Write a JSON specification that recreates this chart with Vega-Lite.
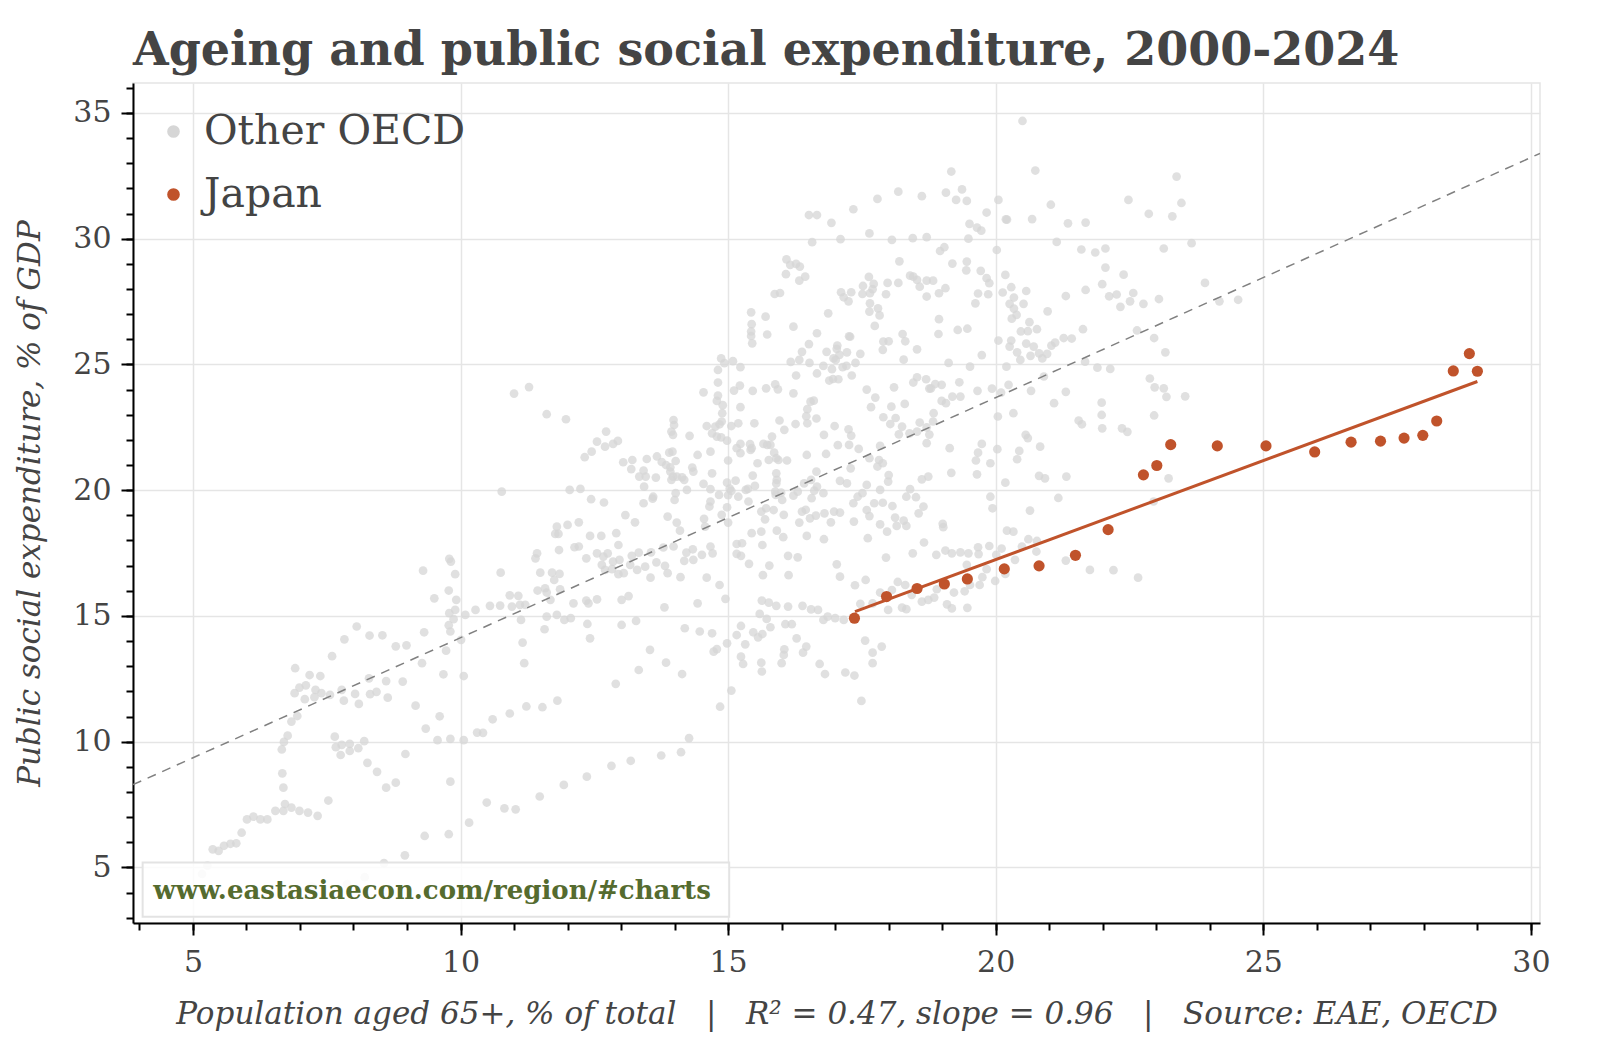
{
  "$schema": "https://vega.github.io/schema/vega-lite/v6.json",
  "width": 1407,
  "height": 840,
  "autosize": {"type": "none"},
  "padding": {"left": 133, "top": 83, "right": 60, "bottom": 117},
  "background": "white",
  "title": {
    "text": "Ageing and public social expenditure, 2000-2024",
    "anchor": "start",
    "frame": "group",
    "font": "DejaVu Serif",
    "fontSize": 46,
    "fontWeight": "bold",
    "color": "#444444",
    "offset": 8
  },
  "config": {
    "view": {"stroke": "#e5e5e5", "strokeWidth": 1.5},
    "legend": {
      "orient": "none",
      "legendX": 20,
      "legendY": 28,
      "padding": 0,
      "labelFont": "DejaVu Serif",
      "labelFontSize": 41,
      "labelColor": "#444444",
      "labelOffset": 10,
      "labelLimit": 500,
      "symbolSize": 160,
      "symbolOpacity": 1,
      "rowPadding": 21
    }
  },
  "datasets": {
    "oecd": [
      {"x":9.30,"y":16.80},{"x":9.82,"y":17.16},{"x":9.90,"y":16.66},{"x":10.75,"y":16.72},{"x":9.51,"y":15.70},{"x":9.78,"y":16.01},{"x":9.92,"y":15.64},{"x":9.79,"y":15.11},{"x":9.90,"y":15.24},{"x":9.87,"y":14.87},{"x":10.09,"y":15.04},{"x":10.28,"y":15.24},{"x":10.55,"y":15.40},{"x":10.74,"y":15.41},{"x":10.92,"y":15.82},{"x":10.96,"y":15.37},{"x":11.08,"y":15.80},{"x":11.11,"y":15.44},{"x":11.21,"y":15.44},{"x":11.13,"y":14.84},{"x":9.78,"y":14.63},{"x":9.81,"y":14.38},{"x":9.32,"y":14.35},{"x":10.01,"y":14.05},{"x":9.73,"y":13.62},{"x":11.16,"y":13.94},{"x":9.28,"y":13.12},{"x":11.19,"y":13.12},{"x":9.68,"y":12.68},{"x":10.06,"y":12.61},{"x":8.06,"y":14.58},{"x":7.83,"y":14.07},{"x":8.30,"y":14.22},{"x":8.54,"y":14.23},{"x":8.79,"y":13.79},{"x":8.99,"y":13.83},{"x":7.60,"y":13.40},{"x":6.91,"y":12.92},{"x":7.18,"y":12.65},{"x":7.38,"y":12.61},{"x":6.90,"y":11.93},{"x":6.99,"y":12.15},{"x":7.11,"y":12.24},{"x":7.29,"y":12.06},{"x":7.09,"y":11.69},{"x":7.27,"y":11.77},{"x":7.40,"y":11.93},{"x":7.56,"y":11.86},{"x":7.78,"y":12.06},{"x":7.82,"y":11.63},{"x":8.03,"y":11.90},{"x":8.10,"y":11.50},{"x":8.29,"y":12.52},{"x":8.31,"y":11.89},{"x":8.43,"y":11.98},{"x":8.61,"y":12.41},{"x":8.64,"y":11.75},{"x":8.92,"y":12.39},{"x":9.16,"y":11.43},{"x":9.61,"y":11.01},{"x":9.35,"y":10.52},{"x":11.23,"y":11.40},{"x":10.92,"y":11.12},{"x":10.60,"y":10.89},{"x":10.31,"y":10.36},{"x":10.42,"y":10.35},{"x":10.06,"y":10.06},{"x":9.81,"y":10.11},{"x":9.57,"y":10.06},{"x":6.95,"y":11.02},{"x":6.84,"y":10.80},{"x":6.77,"y":10.24},{"x":6.70,"y":9.99},{"x":6.66,"y":9.69},{"x":7.65,"y":10.20},{"x":7.67,"y":9.78},{"x":7.76,"y":9.47},{"x":7.78,"y":9.87},{"x":7.93,"y":9.91},{"x":7.93,"y":9.63},{"x":8.09,"y":9.74},{"x":8.20,"y":10.02},{"x":8.26,"y":9.16},{"x":8.44,"y":8.80},{"x":8.61,"y":8.17},{"x":8.79,"y":8.37},{"x":8.97,"y":9.51},{"x":9.81,"y":8.41},{"x":6.67,"y":8.74},{"x":6.69,"y":8.17},{"x":6.72,"y":7.52},{"x":6.84,"y":7.38},{"x":6.99,"y":7.25},{"x":7.15,"y":7.18},{"x":7.33,"y":7.05},{"x":7.53,"y":7.66},{"x":6.69,"y":7.25},{"x":6.54,"y":7.25},{"x":6.39,"y":6.91},{"x":6.26,"y":6.91},{"x":6.13,"y":7.02},{"x":6.01,"y":6.91},{"x":5.91,"y":6.38},{"x":5.81,"y":5.96},{"x":5.70,"y":5.94},{"x":5.58,"y":5.86},{"x":5.48,"y":5.66},{"x":5.37,"y":5.72},{"x":5.27,"y":5.07},{"x":5.17,"y":4.74},{"x":10.49,"y":7.58},{"x":10.82,"y":7.35},{"x":11.03,"y":7.31},{"x":10.16,"y":6.78},{"x":9.78,"y":6.32},{"x":9.33,"y":6.25},{"x":8.96,"y":5.48},{"x":8.57,"y":5.17},{"x":8.21,"y":4.61},{"x":7.88,"y":4.34},{"x":7.22,"y":4.24},
      {"x":9.79,"y":17.27},{"x":10.77,"y":19.94},{"x":11.00,"y":23.84},{"x":11.28,"y":24.10},
      {"x":18.18,"y":31.87},{"x":18.62,"y":31.69},{"x":17.79,"y":31.58},{"x":17.34,"y":31.17},{"x":16.51,"y":30.94},{"x":16.66,"y":30.94},{"x":16.93,"y":30.63},{"x":17.64,"y":30.21},{"x":17.10,"y":29.98},{"x":16.57,"y":29.86},{"x":18.06,"y":29.95},{"x":18.45,"y":30.02},{"x":18.71,"y":30.06},{"x":18.20,"y":29.10},{"x":16.09,"y":29.18},{"x":16.16,"y":28.96},{"x":16.27,"y":29.00},{"x":16.34,"y":28.89},{"x":16.08,"y":28.59},{"x":16.44,"y":28.49},{"x":16.33,"y":28.33},{"x":17.63,"y":28.48},{"x":17.98,"y":28.24},{"x":18.18,"y":28.24},{"x":18.40,"y":28.53},{"x":18.46,"y":28.49},{"x":18.53,"y":28.36},{"x":18.58,"y":28.09},{"x":18.71,"y":28.33},{"x":17.52,"y":28.12},{"x":17.72,"y":28.20},{"x":17.70,"y":27.99},{"x":17.65,"y":27.83},{"x":17.51,"y":27.80},{"x":17.95,"y":27.79},{"x":18.71,"y":27.70},{"x":17.11,"y":27.87},{"x":17.30,"y":27.87},{"x":17.16,"y":27.67},{"x":17.25,"y":27.51},{"x":15.87,"y":27.80},{"x":15.97,"y":27.84},{"x":17.65,"y":27.43},{"x":17.80,"y":27.23},{"x":17.64,"y":27.10},{"x":17.83,"y":26.95},{"x":16.87,"y":27.03},{"x":15.43,"y":27.07},{"x":15.70,"y":26.90},{"x":15.44,"y":26.60},{"x":16.22,"y":26.50},{"x":17.74,"y":26.53},{"x":15.43,"y":26.31},{"x":15.43,"y":26.13},{"x":15.45,"y":25.84},{"x":15.73,"y":26.19},{"x":16.66,"y":26.24},{"x":17.26,"y":26.12},{"x":17.28,"y":26.10},{"x":18.26,"y":26.21},{"x":17.90,"y":25.91},{"x":18.00,"y":25.92},{"x":18.31,"y":25.92},{"x":18.53,"y":25.60},{"x":17.89,"y":25.58},{"x":16.51,"y":25.81},{"x":17.04,"y":25.75},{"x":17.03,"y":25.62},{"x":16.84,"y":25.50},{"x":16.38,"y":25.50},{"x":16.33,"y":25.18},{"x":16.17,"y":25.10},{"x":16.52,"y":25.06},{"x":16.66,"y":24.64},{"x":16.78,"y":24.94},{"x":16.94,"y":24.81},{"x":16.97,"y":25.24},{"x":17.08,"y":25.38},{"x":17.22,"y":25.48},{"x":17.01,"y":25.18},{"x":17.14,"y":24.89},{"x":17.21,"y":24.94},{"x":17.38,"y":25.06},{"x":17.47,"y":25.42},{"x":18.28,"y":25.19},{"x":16.96,"y":24.42},{"x":17.06,"y":24.41},{"x":16.89,"y":24.36},{"x":17.31,"y":24.56},{"x":18.53,"y":24.49},{"x":18.46,"y":24.28},{"x":18.70,"y":24.41},{"x":18.76,"y":24.04},{"x":18.10,"y":24.09},{"x":17.59,"y":24.00},{"x":17.75,"y":23.68},{"x":14.87,"y":25.24},{"x":14.93,"y":25.05},{"x":15.09,"y":25.13},{"x":15.23,"y":24.89},{"x":14.81,"y":24.78},{"x":14.81,"y":24.28},{"x":15.22,"y":24.16},{"x":15.11,"y":23.96},{"x":15.46,"y":23.95},{"x":15.71,"y":24.05},{"x":15.88,"y":24.21},{"x":15.93,"y":24.01},{"x":16.27,"y":24.56},{"x":16.22,"y":23.85},{"x":14.81,"y":23.76},{"x":14.54,"y":23.89},{"x":14.79,"y":23.55},{"x":14.90,"y":23.38},{"x":15.23,"y":23.30},{"x":14.89,"y":23.06},{"x":14.88,"y":22.73},{"x":14.84,"y":22.62},{"x":15.06,"y":22.55},{"x":15.19,"y":22.66},{"x":15.49,"y":22.66},{"x":14.76,"y":22.53},{"x":14.60,"y":22.55},{"x":14.70,"y":22.26},{"x":14.79,"y":22.13},{"x":14.87,"y":22.10},{"x":14.98,"y":21.97},{"x":14.28,"y":22.16},{"x":13.98,"y":22.79},{"x":13.99,"y":22.59},{"x":13.94,"y":22.33},{"x":13.97,"y":22.20},{"x":16.60,"y":23.56},{"x":16.54,"y":23.52},{"x":16.48,"y":23.22},{"x":16.46,"y":22.94},{"x":16.65,"y":22.85},{"x":16.26,"y":22.63},{"x":16.48,"y":22.66},{"x":15.96,"y":22.77},{"x":16.05,"y":22.40},{"x":15.82,"y":22.13},{"x":17.67,"y":23.30},{"x":17.90,"y":22.90},{"x":18.13,"y":22.87},{"x":18.05,"y":23.32},{"x":18.30,"y":23.43},{"x":18.03,"y":22.63},{"x":18.25,"y":22.53},{"x":18.58,"y":22.69},{"x":18.71,"y":22.50},{"x":18.19,"y":22.22},{"x":18.39,"y":22.26},{"x":18.53,"y":22.33},{"x":18.76,"y":22.21},{"x":18.71,"y":21.87},{"x":16.99,"y":22.55},{"x":16.79,"y":22.20},{"x":17.25,"y":22.42},{"x":17.30,"y":22.17},{"x":17.26,"y":21.80},{"x":17.05,"y":21.79},{"x":16.83,"y":21.44},{"x":16.47,"y":21.40},{"x":17.44,"y":21.64},{"x":17.84,"y":21.76},{"x":17.64,"y":21.27},{"x":17.82,"y":21.20},{"x":17.79,"y":20.94},{"x":17.89,"y":21.07},{"x":17.29,"y":20.87},{"x":17.09,"y":20.37},{"x":17.22,"y":20.27},{"x":16.65,"y":20.74},{"x":16.55,"y":20.41},{"x":16.42,"y":20.27},{"x":16.66,"y":20.14},{"x":16.30,"y":19.94},{"x":16.22,"y":19.78},{"x":15.99,"y":19.90},{"x":15.88,"y":19.94},{"x":15.89,"y":19.81},{"x":15.90,"y":20.27},{"x":15.91,"y":20.41},{"x":15.90,"y":20.67},{"x":16.10,"y":21.18},{"x":15.90,"y":21.27},{"x":15.94,"y":21.20},{"x":15.76,"y":21.20},{"x":15.73,"y":21.80},{"x":15.66,"y":21.84},{"x":15.79,"y":21.80},{"x":15.86,"y":21.49},{"x":15.55,"y":21.07},{"x":15.44,"y":21.67},{"x":15.41,"y":21.83},{"x":15.42,"y":21.60},{"x":15.23,"y":21.47},{"x":15.23,"y":21.84},{"x":15.16,"y":21.67},{"x":14.67,"y":21.53},{"x":15.00,"y":21.18},{"x":15.46,"y":20.58},{"x":15.50,"y":20.17},{"x":15.37,"y":20.05},{"x":15.33,"y":20.01},{"x":15.14,"y":20.38},{"x":14.98,"y":20.30},{"x":15.03,"y":20.06},{"x":15.00,"y":19.80},{"x":15.06,"y":19.97},{"x":15.19,"y":19.74},{"x":15.38,"y":19.55},{"x":14.67,"y":20.04},{"x":14.83,"y":19.81},{"x":14.70,"y":20.67},{"x":14.43,"y":21.40},{"x":14.33,"y":20.90},{"x":14.35,"y":20.74},{"x":14.14,"y":20.51},{"x":14.18,"y":20.41},{"x":14.04,"y":20.54},{"x":13.97,"y":20.54},{"x":13.94,"y":20.41},{"x":13.92,"y":20.74},{"x":13.92,"y":20.91},{"x":14.02,"y":21.16},{"x":13.90,"y":21.49},{"x":13.96,"y":21.53},{"x":13.76,"y":21.12},{"x":13.67,"y":21.34},{"x":13.84,"y":21.00},{"x":13.65,"y":20.50},{"x":13.46,"y":20.54},{"x":13.42,"y":20.78},{"x":13.48,"y":21.24},{"x":13.21,"y":21.20},{"x":13.19,"y":20.84},{"x":13.04,"y":21.11},{"x":12.72,"y":22.33},{"x":12.55,"y":21.93},{"x":12.70,"y":21.73},{"x":12.85,"y":21.84},{"x":12.94,"y":21.96},{"x":12.45,"y":21.53},{"x":12.32,"y":21.31},{"x":13.34,"y":20.54},{"x":13.43,"y":20.14},{"x":13.60,"y":19.74},{"x":13.59,"y":19.66},{"x":13.42,"y":19.48},{"x":14.00,"y":19.61},{"x":14.02,"y":19.88},{"x":14.23,"y":20.01},{"x":14.54,"y":20.25},{"x":14.67,"y":19.55},{"x":14.65,"y":19.35},{"x":14.55,"y":18.86},{"x":13.87,"y":18.95},{"x":14.04,"y":18.71},{"x":13.08,"y":19.01},{"x":13.26,"y":18.72},{"x":12.21,"y":18.72},{"x":12.00,"y":18.62},{"x":11.80,"y":18.55},{"x":12.44,"y":19.64},{"x":12.68,"y":19.51},{"x":12.04,"y":20.01},{"x":12.24,"y":20.05},{"x":11.61,"y":23.02},{"x":11.97,"y":22.82},{"x":16.56,"y":19.68},{"x":16.61,"y":19.98},{"x":16.78,"y":19.88},{"x":16.45,"y":19.22},{"x":16.38,"y":19.15},{"x":16.64,"y":18.99},{"x":16.80,"y":19.08},{"x":16.98,"y":19.15},{"x":17.09,"y":19.11},{"x":17.34,"y":19.48},{"x":17.42,"y":19.74},{"x":17.59,"y":19.21},{"x":17.64,"y":18.97},{"x":17.73,"y":19.48},{"x":17.89,"y":19.50},{"x":18.07,"y":19.37},{"x":18.12,"y":18.91},{"x":18.28,"y":18.79},{"x":18.33,"y":19.74},{"x":18.40,"y":20.04},{"x":18.51,"y":19.72},{"x":18.62,"y":20.43},{"x":18.74,"y":20.54},{"x":18.56,"y":19.08},{"x":18.65,"y":19.35},{"x":17.99,"y":20.34},{"x":18.00,"y":20.60},{"x":17.84,"y":20.01},{"x":17.59,"y":20.21},{"x":17.51,"y":19.88},{"x":16.92,"y":18.72},{"x":17.35,"y":18.75},{"x":17.84,"y":18.64},{"x":18.15,"y":18.58},{"x":18.33,"y":18.58},{"x":16.33,"y":18.71},{"x":16.53,"y":18.88},{"x":16.01,"y":19.61},{"x":15.85,"y":19.21},{"x":15.71,"y":19.28},{"x":15.62,"y":19.15},{"x":16.04,"y":19.02},{"x":15.69,"y":18.84},{"x":14.98,"y":19.32},{"x":14.88,"y":19.02},{"x":15.00,"y":18.71},{"x":14.57,"y":18.55},
      {"x":11.77,"y":18.26},{"x":11.83,"y":18.26},{"x":12.42,"y":18.18},{"x":12.63,"y":18.18},{"x":12.91,"y":18.29},{"x":12.95,"y":17.82},{"x":12.13,"y":17.73},{"x":12.21,"y":17.76},{"x":11.84,"y":17.62},{"x":11.43,"y":17.49},{"x":11.40,"y":17.29},{"x":12.35,"y":17.29},{"x":12.55,"y":17.49},{"x":12.67,"y":17.36},{"x":12.75,"y":17.49},{"x":12.85,"y":17.16},{"x":12.97,"y":17.23},{"x":12.64,"y":17.03},{"x":12.70,"y":16.83},{"x":12.83,"y":16.86},{"x":12.95,"y":16.66},{"x":13.05,"y":16.70},{"x":13.17,"y":17.03},{"x":13.33,"y":17.52},{"x":13.20,"y":17.39},{"x":13.30,"y":16.83},{"x":13.45,"y":16.96},{"x":13.56,"y":17.53},{"x":13.66,"y":17.13},{"x":13.79,"y":17.72},{"x":13.82,"y":16.99},{"x":13.87,"y":16.70},{"x":13.98,"y":17.76},{"x":14.10,"y":18.39},{"x":14.22,"y":17.52},{"x":14.34,"y":17.65},{"x":14.18,"y":17.19},{"x":14.35,"y":17.23},{"x":14.51,"y":17.43},{"x":14.67,"y":17.76},{"x":14.71,"y":17.49},{"x":14.60,"y":16.52},{"x":14.11,"y":16.54},{"x":13.55,"y":16.52},{"x":11.49,"y":16.72},{"x":11.71,"y":16.72},{"x":11.85,"y":16.67},{"x":11.75,"y":16.43},{"x":11.44,"y":16.01},{"x":11.58,"y":16.10},{"x":11.61,"y":15.93},{"x":11.68,"y":15.64},{"x":11.86,"y":16.06},{"x":12.11,"y":15.50},{"x":12.35,"y":15.61},{"x":12.39,"y":15.50},{"x":12.55,"y":15.66},{"x":13.01,"y":15.64},{"x":13.14,"y":15.79},{"x":13.81,"y":15.34},{"x":14.43,"y":15.50},{"x":14.84,"y":16.23},{"x":14.95,"y":15.68},{"x":11.61,"y":14.97},{"x":11.80,"y":15.04},{"x":11.94,"y":14.84},{"x":12.06,"y":14.91},{"x":12.37,"y":14.68},{"x":12.42,"y":14.11},{"x":13.01,"y":14.64},{"x":13.28,"y":14.80},{"x":11.57,"y":14.47},{"x":14.19,"y":14.51},{"x":14.47,"y":14.38},{"x":14.70,"y":14.31},{"x":13.54,"y":13.65},{"x":13.84,"y":13.14},{"x":13.33,"y":12.85},{"x":14.14,"y":12.69},{"x":12.90,"y":12.30},{"x":11.53,"y":11.37},{"x":11.81,"y":11.63},{"x":14.73,"y":13.58},{"x":14.79,"y":13.68},{"x":14.98,"y":13.91},{"x":15.06,"y":12.03},{"x":14.85,"y":11.39},{"x":14.27,"y":10.14},{"x":14.12,"y":9.58},{"x":13.75,"y":9.45},{"x":13.18,"y":9.24},{"x":12.82,"y":9.04},{"x":12.36,"y":8.61},{"x":11.93,"y":8.28},{"x":11.48,"y":7.82},
      {"x":15.16,"y":17.86},{"x":15.26,"y":17.89},{"x":15.16,"y":17.47},{"x":15.24,"y":17.39},{"x":15.39,"y":17.07},{"x":15.44,"y":18.29},{"x":15.62,"y":18.35},{"x":15.64,"y":17.82},{"x":15.77,"y":17.00},{"x":15.65,"y":16.62},{"x":15.91,"y":18.39},{"x":16.03,"y":18.13},{"x":16.47,"y":18.18},{"x":16.79,"y":18.05},{"x":16.12,"y":17.39},{"x":16.30,"y":17.33},{"x":16.13,"y":16.62},{"x":17.03,"y":17.05},{"x":17.09,"y":16.56},{"x":17.37,"y":16.22},{"x":17.57,"y":16.43},{"x":17.61,"y":18.09},{"x":17.97,"y":18.35},{"x":17.95,"y":17.32},{"x":18.45,"y":17.49},{"x":18.66,"y":17.92},{"x":18.17,"y":16.35},{"x":18.31,"y":16.23},{"x":17.84,"y":15.93},{"x":18.06,"y":16.03},{"x":15.63,"y":15.61},{"x":15.76,"y":15.53},{"x":15.90,"y":15.40},{"x":16.12,"y":15.37},{"x":16.39,"y":15.40},{"x":16.55,"y":15.26},{"x":16.68,"y":15.24},{"x":16.78,"y":14.84},{"x":16.86,"y":14.97},{"x":17.00,"y":14.91},{"x":17.16,"y":14.84},{"x":17.47,"y":15.48},{"x":17.70,"y":15.50},{"x":17.99,"y":15.24},{"x":18.25,"y":15.33},{"x":18.33,"y":15.27},{"x":18.43,"y":15.84},{"x":18.62,"y":15.57},{"x":18.74,"y":15.64},{"x":15.59,"y":15.08},{"x":15.72,"y":14.88},{"x":15.79,"y":14.55},{"x":16.07,"y":14.67},{"x":16.19,"y":14.67},{"x":15.24,"y":14.60},{"x":15.16,"y":14.24},{"x":15.47,"y":14.35},{"x":15.56,"y":14.15},{"x":15.64,"y":14.28},{"x":15.32,"y":13.87},{"x":16.28,"y":14.11},{"x":16.46,"y":13.78},{"x":16.40,"y":13.54},{"x":16.05,"y":13.67},{"x":16.04,"y":13.45},{"x":16.00,"y":13.12},{"x":15.24,"y":13.38},{"x":15.28,"y":13.09},{"x":15.62,"y":13.14},{"x":15.63,"y":12.79},{"x":16.71,"y":13.09},{"x":16.81,"y":12.69},{"x":17.19,"y":12.75},{"x":17.36,"y":12.63},{"x":17.56,"y":14.02},{"x":17.70,"y":13.54},{"x":17.87,"y":13.78},{"x":17.70,"y":13.12},{"x":17.49,"y":11.62},
      {"x":20.50,"y":34.68},{"x":19.17,"y":32.67},{"x":20.74,"y":32.71},{"x":23.38,"y":32.47},{"x":19.37,"y":31.96},{"x":19.07,"y":31.83},{"x":19.26,"y":31.54},{"x":19.46,"y":31.50},{"x":20.05,"y":31.54},{"x":21.03,"y":31.35},{"x":22.48,"y":31.54},{"x":22.86,"y":30.99},{"x":23.47,"y":31.42},{"x":23.30,"y":30.89},{"x":19.83,"y":31.04},{"x":20.19,"y":30.77},{"x":20.21,"y":30.76},{"x":20.68,"y":30.78},{"x":21.35,"y":30.61},{"x":21.68,"y":30.64},{"x":19.51,"y":30.59},{"x":19.65,"y":30.44},{"x":19.73,"y":30.32},{"x":19.49,"y":30.00},{"x":20.02,"y":29.55},{"x":21.14,"y":29.87},{"x":21.60,"y":29.57},{"x":21.86,"y":29.45},{"x":22.05,"y":29.61},{"x":23.14,"y":29.61},{"x":23.66,"y":29.82},{"x":18.96,"y":29.51},{"x":19.04,"y":29.66},{"x":19.19,"y":29.01},{"x":19.46,"y":29.09},{"x":19.45,"y":28.74},{"x":19.72,"y":28.72},{"x":19.83,"y":28.43},{"x":19.88,"y":28.23},{"x":20.18,"y":28.56},{"x":22.05,"y":28.85},{"x":22.39,"y":28.57},{"x":18.83,"y":28.33},{"x":19.06,"y":28.03},{"x":18.94,"y":27.83},{"x":19.67,"y":27.82},{"x":19.86,"y":27.79},{"x":19.62,"y":27.43},{"x":20.13,"y":27.86},{"x":20.29,"y":28.07},{"x":20.57,"y":27.92},{"x":20.34,"y":27.66},{"x":20.26,"y":27.41},{"x":20.52,"y":27.41},{"x":20.34,"y":27.22},{"x":20.39,"y":26.97},{"x":20.30,"y":26.82},{"x":20.63,"y":26.68},{"x":20.97,"y":27.11},{"x":21.31,"y":27.72},{"x":21.68,"y":27.96},{"x":21.99,"y":28.19},{"x":22.12,"y":27.71},{"x":22.26,"y":27.78},{"x":22.33,"y":27.29},{"x":22.51,"y":27.51},{"x":22.57,"y":27.84},{"x":22.76,"y":27.41},{"x":23.05,"y":27.60},{"x":23.91,"y":28.24},{"x":24.18,"y":27.51},{"x":24.53,"y":27.57},{"x":22.64,"y":26.35},{"x":22.96,"y":26.05},{"x":23.17,"y":25.48},{"x":21.63,"y":26.40},{"x":18.94,"y":26.80},{"x":18.93,"y":26.21},{"x":19.29,"y":26.37},{"x":19.47,"y":26.42},{"x":20.05,"y":25.95},{"x":20.29,"y":25.95},{"x":20.26,"y":25.71},{"x":20.40,"y":25.48},{"x":20.46,"y":25.18},{"x":20.57,"y":25.83},{"x":20.71,"y":25.71},{"x":20.65,"y":25.34},{"x":20.81,"y":25.44},{"x":20.87,"y":25.24},{"x":20.96,"y":25.42},{"x":21.04,"y":25.75},{"x":21.11,"y":25.87},{"x":21.27,"y":26.05},{"x":21.42,"y":26.03},{"x":20.77,"y":26.40},{"x":20.60,"y":26.32},{"x":20.47,"y":26.31},{"x":19.74,"y":25.37},{"x":19.12,"y":25.06},{"x":19.52,"y":24.91},{"x":20.20,"y":24.91},{"x":21.67,"y":25.11},{"x":21.90,"y":24.87},{"x":22.14,"y":24.82},{"x":22.88,"y":24.44},{"x":22.97,"y":24.09},{"x":23.14,"y":24.05},{"x":23.19,"y":23.71},{"x":23.54,"y":23.73},{"x":20.90,"y":24.52},{"x":20.24,"y":24.19},{"x":19.93,"y":24.04},{"x":20.10,"y":23.88},{"x":19.66,"y":23.95},{"x":19.32,"y":24.29},{"x":18.99,"y":24.19},{"x":18.87,"y":24.22},{"x":18.79,"y":24.05},{"x":19.19,"y":23.72},{"x":19.34,"y":23.72},{"x":19.07,"y":23.46},{"x":18.99,"y":23.55},{"x":20.66,"y":23.95},{"x":21.31,"y":23.91},{"x":21.09,"y":23.46},{"x":21.98,"y":23.48},{"x":21.98,"y":22.99},{"x":21.99,"y":22.46},{"x":22.36,"y":22.46},{"x":22.46,"y":22.32},{"x":22.96,"y":22.97},{"x":21.55,"y":22.77},{"x":21.61,"y":22.62},{"x":20.33,"y":23.06},{"x":20.04,"y":22.93},{"x":18.84,"y":23.06},{"x":18.83,"y":22.73},{"x":19.14,"y":21.67},{"x":19.74,"y":21.84},{"x":19.67,"y":21.49},{"x":19.63,"y":21.18},{"x":19.90,"y":21.07},{"x":20.03,"y":21.63},{"x":20.44,"y":21.56},{"x":20.40,"y":21.23},{"x":20.56,"y":22.20},{"x":20.60,"y":22.07},{"x":20.83,"y":21.73},{"x":20.81,"y":20.57},{"x":20.92,"y":20.47},{"x":21.32,"y":20.54},{"x":20.18,"y":20.30},{"x":19.65,"y":20.63},{"x":19.17,"y":20.69},{"x":19.90,"y":19.74},{"x":19.94,"y":19.28},{"x":21.17,"y":19.69},{"x":20.64,"y":19.19},{"x":23.23,"y":20.47},{"x":22.95,"y":19.55},
      {"x":19.01,"y":18.66},{"x":19.02,"y":18.53},{"x":20.21,"y":18.39},{"x":20.33,"y":18.35},{"x":20.61,"y":18.05},{"x":20.77,"y":17.98},{"x":18.89,"y":17.43},{"x":19.06,"y":17.60},{"x":19.18,"y":17.49},{"x":19.34,"y":17.53},{"x":19.49,"y":17.49},{"x":19.67,"y":17.73},{"x":19.68,"y":17.46},{"x":19.88,"y":17.78},{"x":20.11,"y":17.68},{"x":20.01,"y":17.43},{"x":20.49,"y":17.76},{"x":20.76,"y":17.56},{"x":20.36,"y":17.23},{"x":19.46,"y":17.03},{"x":19.83,"y":16.86},{"x":19.75,"y":16.54},{"x":19.99,"y":16.39},{"x":19.70,"y":16.23},{"x":20.18,"y":16.67},{"x":21.31,"y":17.20},{"x":21.76,"y":16.83},{"x":22.20,"y":16.82},{"x":22.66,"y":16.52},{"x":19.22,"y":15.93},{"x":19.42,"y":15.98},{"x":18.85,"y":15.73},{"x":18.90,"y":16.06},{"x":19.09,"y":15.46},{"x":19.18,"y":15.30},{"x":19.47,"y":15.32},{"x":19.52,"y":16.23}
    ],
    "japan": [
      {"x":17.36,"y":14.91},{"x":17.96,"y":15.77},{"x":18.53,"y":16.09},{"x":19.04,"y":16.27},{"x":19.47,"y":16.47},{"x":20.16,"y":16.87},{"x":20.81,"y":16.99},{"x":21.49,"y":17.41},{"x":22.10,"y":18.43},{"x":22.76,"y":20.61},{"x":23.01,"y":20.98},{"x":23.27,"y":21.81},{"x":24.14,"y":21.76},{"x":25.05,"y":21.76},{"x":25.96,"y":21.52},{"x":26.64,"y":21.91},{"x":27.19,"y":21.95},{"x":27.63,"y":22.07},{"x":27.98,"y":22.18},{"x":28.24,"y":22.75},{"x":28.55,"y":24.74},{"x":28.85,"y":25.43},{"x":29.00,"y":24.73}
    ],
    "fit_all": [{"x":3.88,"y":8.29},{"x":30.17,"y":33.39}],
    "fit_japan": [{"x":17.37,"y":15.17},{"x":29.0,"y":24.32}]
  },
  "layer": [
    {
      "data": {"values": []},
      "mark": {"type": "circle", "size": 160, "opacity": 1},
      "encoding": {
        "x": {
          "field": "x", "type": "quantitative",
          "scale": {"domain": [3.88, 30.17], "nice": false, "zero": false},
          "axis": {
            "values": [5, 10, 15, 20, 25, 30],
            "grid": true, "gridColor": "#e5e5e5", "gridWidth": 1.5,
            "domainColor": "#000000", "domainWidth": 2,
            "tickColor": "#000000", "tickWidth": 2, "tickSize": 12,
            "labelFont": "DejaVu Serif", "labelFontSize": 30, "labelColor": "#444444",
            "labelPadding": 12, "labelOverlap": false, "labelFlush": false,
            "title": "Population aged 65+, % of total\u00a0\u00a0 | \u00a0\u00a0R² = 0.47, slope = 0.96\u00a0\u00a0 | \u00a0\u00a0Source: EAE, OECD",
            "titleFont": "DejaVu Serif", "titleFontStyle": "italic", "titleFontWeight": "normal",
            "titleFontSize": 31, "titleColor": "#444444", "titlePadding": 22
          }
        },
        "y": {
          "field": "y", "type": "quantitative",
          "scale": {"domain": [2.79, 36.19], "nice": false, "zero": false},
          "axis": {
            "values": [5, 10, 15, 20, 25, 30, 35],
            "grid": true, "gridColor": "#e5e5e5", "gridWidth": 1.5,
            "domainColor": "#000000", "domainWidth": 2,
            "tickColor": "#000000", "tickWidth": 2, "tickSize": 12,
            "labelFont": "DejaVu Serif", "labelFontSize": 30, "labelColor": "#444444",
            "labelPadding": 10, "labelOverlap": false, "labelFlush": false,
            "title": "Public social expenditure, % of GDP",
            "titleFont": "DejaVu Serif", "titleFontStyle": "italic", "titleFontWeight": "normal",
            "titleFontSize": 31, "titleColor": "#444444", "titlePadding": 26
          }
        },
        "color": {
          "datum": "Other OECD", "type": "nominal",
          "scale": {"domain": ["Other OECD", "Japan"], "range": ["#d6d6d6", "#c0532b"]},
          "legend": {"title": null, "symbolOpacity": 1, "symbolSize": 160, "labelLimit": 500}
        }
      }
    },
    {
      "data": {"name": "oecd"},
      "mark": {"type": "circle", "size": 76, "opacity": 0.75},
      "encoding": {
        "x": {"field": "x", "type": "quantitative", "axis": null},
        "y": {"field": "y", "type": "quantitative", "axis": null},
        "color": {"datum": "Other OECD", "type": "nominal", "legend": null}
      }
    },
    {
      "data": {"name": "fit_all"},
      "mark": {"type": "line", "color": "#808080", "strokeWidth": 1.5, "strokeDash": [9, 7], "clip": true},
      "encoding": {
        "x": {
          "field": "x", "type": "quantitative",
          "axis": {
            "orient": "bottom",
            "values": [4, 5, 6, 7, 8, 9, 10, 11, 12, 13, 14, 15, 16, 17, 18, 19, 20, 21, 22, 23, 24, 25, 26, 27, 28, 29, 30],
            "labels": false, "grid": false, "domain": false,
            "tickColor": "#000000", "tickWidth": 2, "tickSize": 7, "title": null
          }
        },
        "y": {
          "field": "y", "type": "quantitative",
          "axis": {
            "orient": "left",
            "values": [3, 4, 5, 6, 7, 8, 9, 10, 11, 12, 13, 14, 15, 16, 17, 18, 19, 20, 21, 22, 23, 24, 25, 26, 27, 28, 29, 30, 31, 32, 33, 34, 35, 36],
            "labels": false, "grid": false, "domain": false,
            "tickColor": "#000000", "tickWidth": 2, "tickSize": 7, "title": null
          }
        }
      }
    },
    {
      "data": {"name": "japan"},
      "mark": {"type": "circle", "size": 125, "opacity": 1},
      "encoding": {
        "x": {"field": "x", "type": "quantitative", "axis": null},
        "y": {"field": "y", "type": "quantitative", "axis": null},
        "color": {"datum": "Japan", "type": "nominal", "legend": null}
      }
    },
    {
      "data": {"name": "fit_japan"},
      "mark": {"type": "line", "color": "#c0532b", "strokeWidth": 3, "clip": true},
      "encoding": {
        "x": {"field": "x", "type": "quantitative", "axis": null},
        "y": {"field": "y", "type": "quantitative", "axis": null}
      }
    },
    {
      "data": {"values": [{}]},
      "mark": {"type": "rect", "fill": "#ffffff", "fillOpacity": 0.85, "stroke": "#e3e3e3", "strokeWidth": 2},
      "encoding": {
        "x": {"datum": 4.06, "type": "quantitative", "axis": null},
        "x2": {"datum": 15.02},
        "y": {"datum": 3.04, "type": "quantitative", "axis": null},
        "y2": {"datum": 5.2}
      }
    },
    {
      "data": {"values": [{"label": "www.eastasiaecon.com/region/#charts"}]},
      "mark": {"type": "text", "align": "left", "baseline": "alphabetic", "font": "DejaVu Serif", "fontWeight": "bold", "fontSize": 26, "color": "#556b2f"},
      "encoding": {
        "x": {"datum": 4.26, "type": "quantitative", "axis": null},
        "y": {"datum": 3.75, "type": "quantitative", "axis": null},
        "text": {"field": "label"}
      }
    }
  ],
  "resolve": {"axis": {"x": "independent", "y": "independent"}}
}
